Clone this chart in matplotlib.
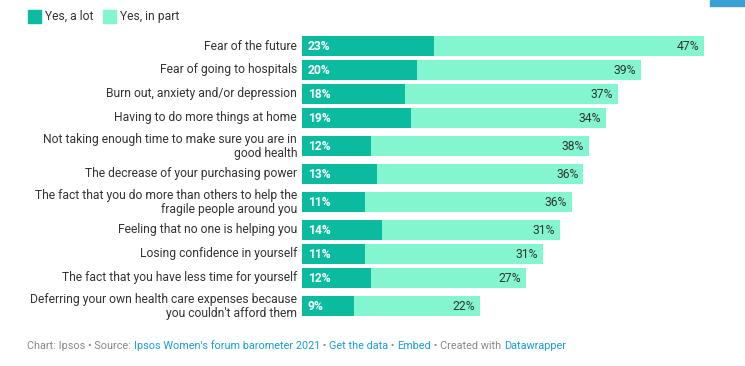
import matplotlib.pyplot as plt
from matplotlib.patches import Rectangle

plt.rcParams['font.family'] = ['Roboto', 'DejaVu Sans']

categories = [
    "Fear of the future",
    "Fear of going to hospitals",
    "Burn out, anxiety and/or depression",
    "Having to do more things at home",
    "Not taking enough time to make sure you are in\ngood health",
    "The decrease of your purchasing power",
    "The fact that you do more than others to help the\nfragile people around you",
    "Feeling that no one is helping you",
    "Losing confidence in yourself",
    "The fact that you have less time for yourself",
    "Deferring your own health care expenses because\nyou couldn't afford them",
]
yes_a_lot = [23, 20, 18, 19, 12, 13, 11, 14, 11, 12, 9]
yes_in_part = [47, 39, 37, 34, 38, 36, 36, 31, 31, 27, 22]
series_names = ["Yes, a lot", "Yes, in part"]

DARK = "#0abba0"
LIGHT = "#83f5cf"
TEXT = "#333333"
GREY = "#888888"
LINK = "#1a9fcf"
FS = 8.7

W, H = 745, 366
fig = plt.figure(figsize=(W / 100, H / 100), dpi=100)

# axes in pixel-like y units (top-down), x in percent
top_px, bot_px = 30, 322
left_px, right_px = 302, 302 + 402
ax = fig.add_axes([left_px / W, 1 - bot_px / H, (right_px - left_px) / W, (bot_px - top_px) / H])
ax.set_xlim(0, 70)
ax.set_ylim(bot_px, top_px)
ax.axis('off')

# row centres from label line counts
centres = []
y = 36
prev_band = None
for lab in categories:
    band = 12 if lab.count("\n") == 0 else 16
    if prev_band is not None:
        y += prev_band + band
    else:
        y += 10
    centres.append(y)
    prev_band = band

ax.barh(centres, yes_a_lot, height=20, color=DARK, linewidth=0)
ax.barh(centres, yes_in_part, left=yes_a_lot, height=20, color=LIGHT, linewidth=0)

for yc, a, b, lab in zip(centres, yes_a_lot, yes_in_part, categories):
    ax.annotate(f"{a}%", xy=(0, yc), xytext=(6, 0), textcoords='offset pixels',
                ha='left', va='center', fontsize=FS, color='white', fontweight='bold')
    ax.annotate(f"{b}%", xy=(a + b, yc), xytext=(-5, 0), textcoords='offset pixels',
                ha='right', va='center', fontsize=FS, color=TEXT)
    ax.annotate(lab, xy=(0, yc), xytext=(-5, 0), textcoords='offset pixels',
                ha='right', va='center', fontsize=FS, color=TEXT, linespacing=1.1,
                multialignment='right', annotation_clip=False)

# legend
fig.patches.append(Rectangle((28 / W, 1 - 23 / H), 13 / W, 13 / H, transform=fig.transFigure,
                             color=DARK, figure=fig))
fig.text(45 / W, 1 - 16.5 / H, series_names[0], fontsize=FS, color=TEXT, va='center')
fig.patches.append(Rectangle((103 / W, 1 - 23 / H), 13 / W, 13 / H, transform=fig.transFigure,
                             color=LIGHT, figure=fig))
fig.text(120 / W, 1 - 16.5 / H, series_names[1], fontsize=FS, color=TEXT, va='center')

# blue tab top right
fig.patches.append(Rectangle((710 / W, 1 - 6 / H), 35 / W, 6 / H, transform=fig.transFigure,
                             color="#3a9fd1", figure=fig))

# footer
footer = [
    ("Chart: Ipsos \u2022 Source: ", GREY),
    ("Ipsos Women's forum barometer 2021", LINK),
    (" \u2022 ", GREY),
    ("Get the data", LINK),
    (" \u2022 ", GREY),
    ("Embed", LINK),
    (" \u2022 Created with ", GREY),
    ("Datawrapper", LINK),
]
renderer = fig.canvas.get_renderer()
x = 27
for txt, col in footer:
    t = fig.text(x / W, 1 - 346 / H, txt, fontsize=7.8, color=col, va='center', ha='left')
    bb = t.get_window_extent(renderer=renderer)
    x += bb.width

fig.savefig("out.png", dpi=100)
